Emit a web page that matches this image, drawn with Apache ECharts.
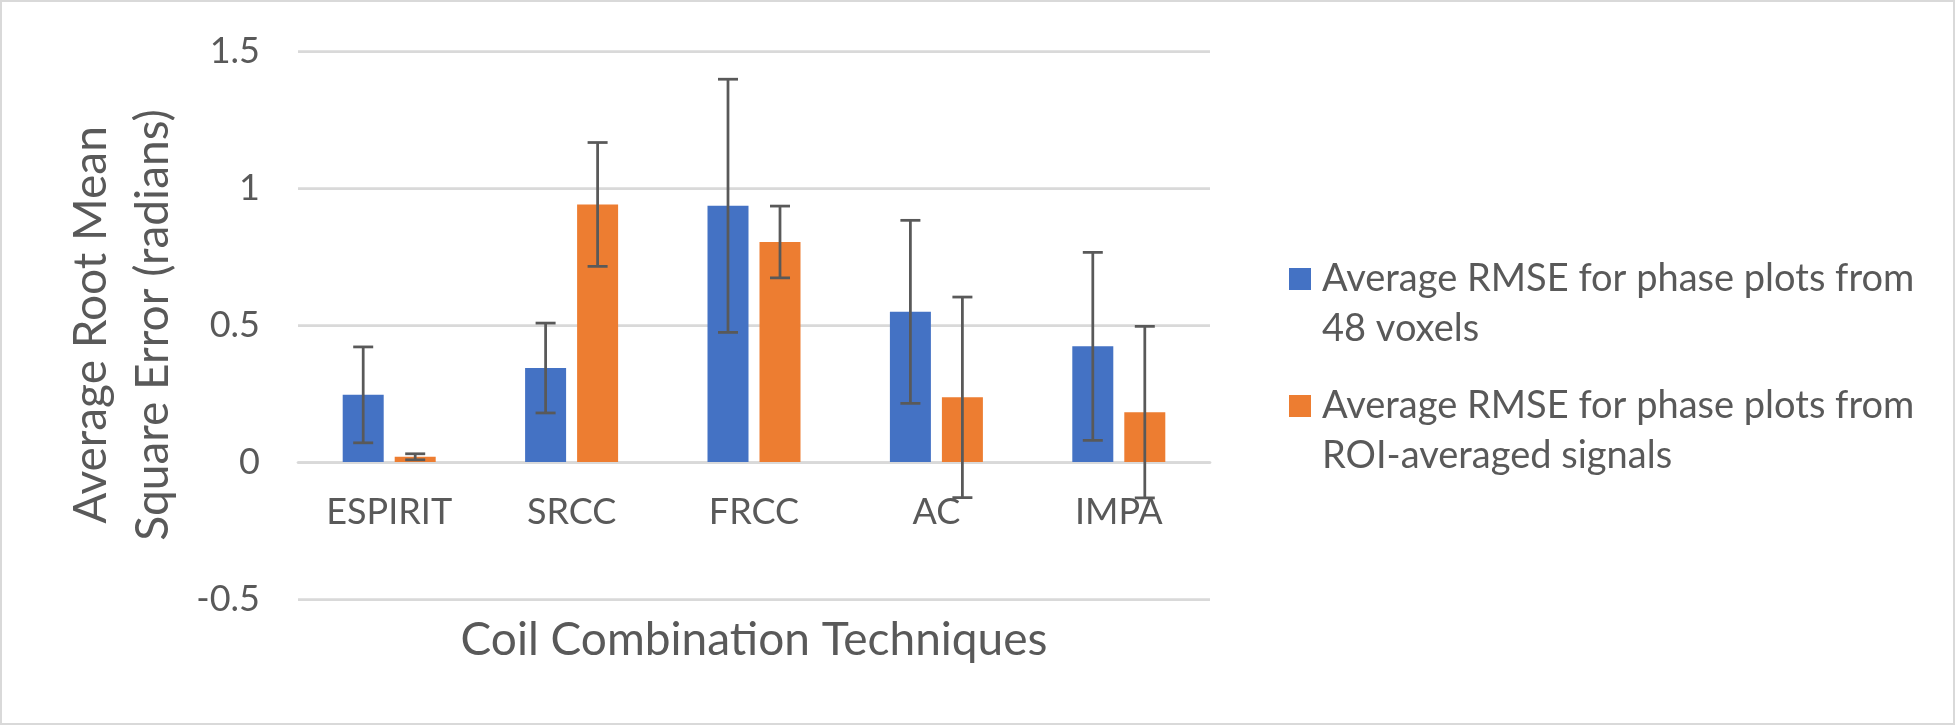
<!DOCTYPE html>
<html>
<head>
<meta charset="utf-8">
<script src="https://cdn.jsdelivr.net/npm/echarts@6/dist/echarts.min.js"></script>
<style>
html,body{margin:0;padding:0;background:#fff;}
#chart{width:1956px;height:726px;}
</style>
</head>
<body>
<div id="chart"></div>
<script>
// ---- data ----
const categories = ['ESPIRIT', 'SRCC', 'FRCC', 'AC', 'IMPA'];
const seriesNames = [
  'Average RMSE for phase plots from 48 voxels',
  'Average RMSE for phase plots from ROI-averaged signals'
];
const legendLines = {
  'Average RMSE for phase plots from 48 voxels': ['Average RMSE for phase plots from', '48 voxels'],
  'Average RMSE for phase plots from ROI-averaged signals': ['Average RMSE for phase plots from', 'ROI-averaged signals']
};
const voxelValues = [0.245, 0.343, 0.935, 0.548, 0.422];
const voxelErrors = [0.175, 0.164, 0.462, 0.334, 0.343];
const roiValues = [0.019, 0.94, 0.803, 0.236, 0.182];
const roiErrors = [0.011, 0.226, 0.131, 0.366, 0.313];
const yMin = -0.5, yMax = 1.5, yStep = 0.5;
const xAxisTitle = 'Coil Combination Techniques';
const yAxisTitle = 'Average Root Mean\nSquare Error (radians)';

const BLUE = '#4472C4', ORANGE = '#ED7D31', TEXT = '#595959', GRID = '#D9D9D9';
const FONT = 'Lato';
const BAR_W = 41, BAR_GAP = 11;
const GRID_TOP = 51, GRID_BOTTOM = 127, CHART_H = 726;
const plotH = CHART_H - GRID_TOP - GRID_BOTTOM;
// move the category axis up to the value 0 line
const zeroOffset = -plotH * (0 - yMin) / (yMax - yMin);
// legend marker: 22px square at top-left of a 28x72 icon box (so it lines up with the first text line)
const LEGEND_ICON = 'path://M0,0H22V22H0Z M27.9,71.9H28V72H27.9Z';

function errSeries(values, errors, offset) {
  return {
    type: 'custom',
    z: 10,
    silent: true,
    encode: { x: 0, y: 1 },
    data: values.map((v, i) => [i, v, errors[i]]),
    renderItem: function (params, api) {
      const i = api.value(0), v = api.value(1), e = api.value(2);
      const top = api.coord([i, v + e]);
      const bot = api.coord([i, v - e]);
      const cx = top[0] + offset;
      const half = 10;
      const style = { stroke: TEXT, lineWidth: 2.75 };
      return {
        type: 'group',
        children: [
          { type: 'line', shape: { x1: cx, y1: top[1], x2: cx, y2: bot[1] }, style: style },
          { type: 'line', shape: { x1: cx - half, y1: top[1], x2: cx + half, y2: top[1] }, style: style },
          { type: 'line', shape: { x1: cx - half, y1: bot[1], x2: cx + half, y2: bot[1] }, style: style }
        ]
      };
    }
  };
}

const chart = echarts.init(document.getElementById('chart'), null, { renderer: 'canvas' });
const off = (BAR_W + BAR_GAP) / 2;
chart.setOption({
  backgroundColor: '#ffffff',
  animation: false,
  textStyle: { fontFamily: FONT, color: TEXT },
  graphic: [{
    type: 'rect', silent: true, z: -1,
    shape: { x: 1, y: 1, width: 1953, height: 723 },
    style: { fill: 'none', stroke: GRID, lineWidth: 2 }
  }],
  grid: { left: 298, right: 746, top: GRID_TOP, bottom: GRID_BOTTOM, containLabel: false, outerBoundsMode: 'none' },
  legend: {
    orient: 'vertical',
    left: 1284,
    top: 249,
    icon: LEGEND_ICON,
    itemWidth: 28,
    itemHeight: 72,
    itemGap: 27,
    selectedMode: false,
    data: seriesNames,
    formatter: function (name) { return legendLines[name].join('\n'); },
    textStyle: { fontFamily: FONT, fontSize: 38, color: TEXT, lineHeight: 50 }
  },
  xAxis: {
    type: 'category',
    data: categories,
    offset: zeroOffset,
    name: xAxisTitle,
    nameLocation: 'middle',
    nameGap: 155,
    nameTextStyle: { fontFamily: FONT, fontSize: 46, color: TEXT },
    axisLine: { onZero: false, lineStyle: { color: GRID, width: 2.75 } },
    axisTick: { show: false },
    axisLabel: { fontFamily: FONT, fontSize: 36, color: TEXT, margin: 32 },
    splitLine: { show: false }
  },
  yAxis: {
    type: 'value',
    min: yMin, max: yMax, interval: yStep,
    name: yAxisTitle,
    nameLocation: 'middle',
    nameRotate: 90,
    nameGap: 114,
    nameTextStyle: { fontFamily: FONT, fontSize: 46, color: TEXT, lineHeight: 62 },
    axisLine: { show: false },
    axisTick: { show: false },
    axisLabel: { fontFamily: FONT, fontSize: 36, color: TEXT, margin: 38 },
    splitLine: { lineStyle: { color: GRID, width: 2.75 } }
  },
  series: [
    { name: seriesNames[0], type: 'bar', data: voxelValues, barWidth: BAR_W, barGap: (BAR_GAP / BAR_W * 100) + '%', itemStyle: { color: BLUE } },
    { name: seriesNames[1], type: 'bar', data: roiValues, barWidth: BAR_W, itemStyle: { color: ORANGE } },
    errSeries(voxelValues, voxelErrors, -off),
    errSeries(roiValues, roiErrors, off)
  ]
});
</script>
</body>
</html>
